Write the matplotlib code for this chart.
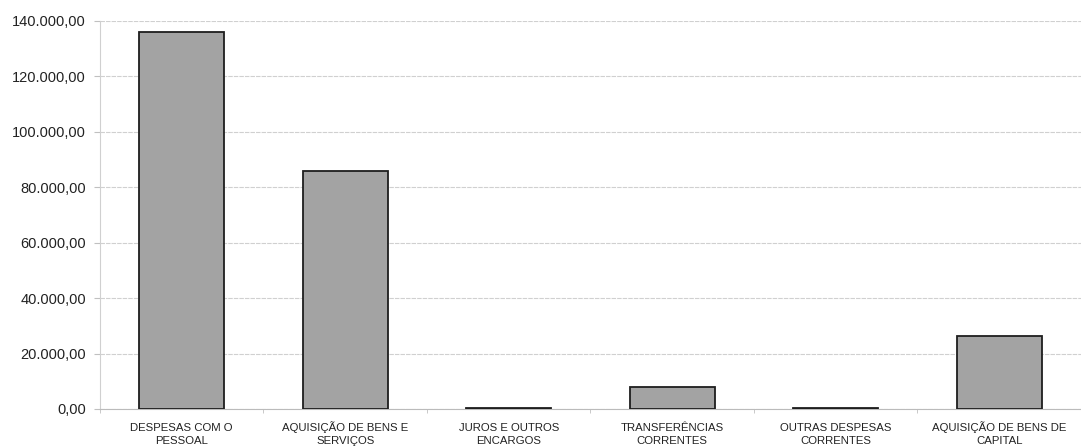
import matplotlib
matplotlib.use("Agg")
import matplotlib.pyplot as plt
from matplotlib.ticker import FuncFormatter, FixedLocator

categories = ["DESPESAS COM O\nPESSOAL", "AQUISIÇÃO DE BENS E\nSERVIÇOS", "JUROS E OUTROS\nENCARGOS",
              "TRANSFERÊNCIAS\nCORRENTES", "OUTRAS DESPESAS\nCORRENTES", "AQUISIÇÃO DE BENS DE\nCAPITAL"]
values = [135900, 86000, 400, 8000, 200, 26300]
yticks = [0, 20000, 40000, 60000, 80000, 100000, 120000, 140000]

plt.rcParams['font.family'] = ['Liberation Sans', 'DejaVu Sans']

fig = plt.figure(figsize=(10.81, 4.46), dpi=100)
fig.patch.set_facecolor('white')
ax = fig.add_axes([0.0925, 0.083, 0.9075, 0.87])

x = list(range(len(categories)))
ax.bar(x, values, width=0.52, color='#a3a3a3', edgecolor='#1e1e1e', linewidth=1.3, zorder=3)

ax.set_xlim(-0.5, len(categories) - 0.5)
ax.set_ylim(0, 140000)
ax.set_yticks(yticks)
ax.yaxis.set_major_formatter(FuncFormatter(lambda v, p: f"{v:,.2f}".replace(",", "X").replace(".", ",").replace("X", ".")))
ax.grid(axis='y', color='#d0d0d0', linewidth=0.8, linestyle=(0, (4, 1)), zorder=0)

ax.set_xticks(x)
ax.set_xticklabels([])
ax.tick_params(axis='x', length=0)
for xi, lab in zip(x, categories):
    ax.text(xi, -0.089, lab, transform=ax.get_xaxis_transform(), ha='center', va='baseline',
            fontsize=8.2, color='#222222', linespacing=1.3, multialignment='center')
ax.xaxis.set_minor_locator(FixedLocator([i - 0.5 for i in range(len(categories) + 1)]))
ax.tick_params(axis='x', which='minor', length=3, color='#c0c0c0')
ax.tick_params(axis='y', labelsize=10.5, colors='#222222', length=4, pad=6)
ax.tick_params(axis='y', color='#c0c0c0')

for s in ['top', 'right']:
    ax.spines[s].set_visible(False)
ax.spines['left'].set_color('#d0d0d0')
ax.spines['left'].set_linestyle((0, (2, 1)))
ax.spines['bottom'].set_color('#bbbbbb')
ax.spines['bottom'].set_linestyle((0, (4, 1)))

fig.savefig("out.png", dpi=100, facecolor='white')
